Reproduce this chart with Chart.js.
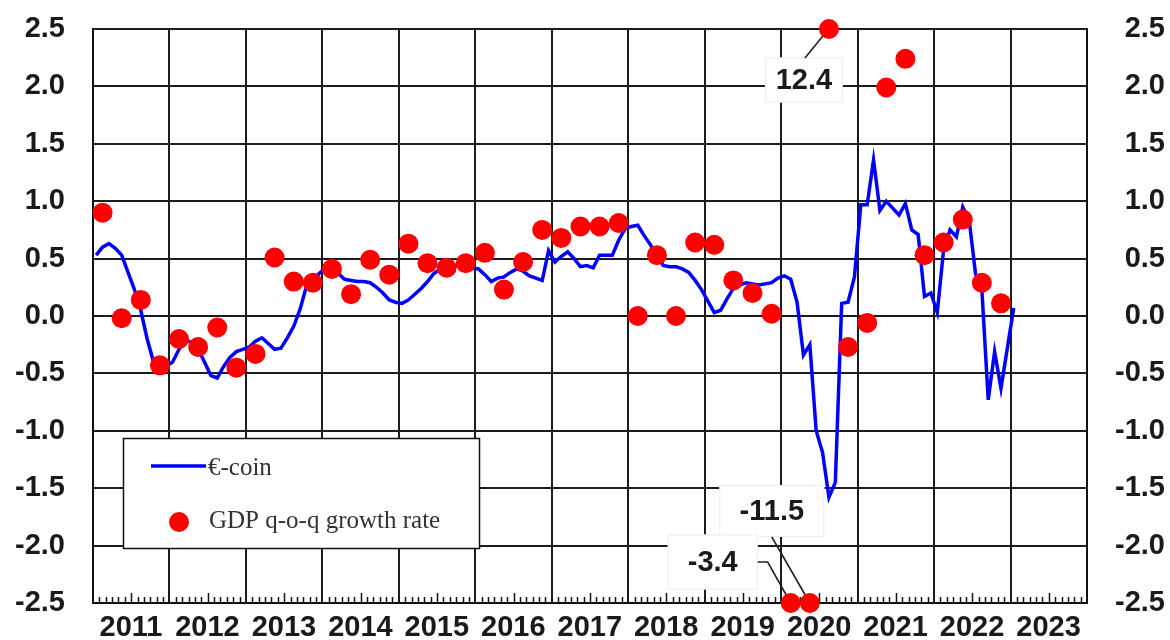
<!DOCTYPE html>
<html>
<head>
<meta charset="utf-8">
<script src="https://cdn.jsdelivr.net/npm/chart.js@4"></script>
<style>
  html, body { margin: 0; padding: 0; background: #fff; }
  canvas { display: block; }
</style>
</head>
<body>
<canvas id="chart" width="1170" height="640"></canvas>
<script>
const ctx = document.getElementById('chart');

const yearTicks = [2011, 2012, 2013, 2014, 2015, 2016, 2017, 2018, 2019, 2020, 2021, 2022, 2023, 2024];
const yearLabels = ['2011', '2012', '2013', '2014', '2015', '2016', '2017', '2018', '2019', '2020', '2021', '2022', '2023'];
const yTicks = [-2.5, -2.0, -1.5, -1.0, -0.5, 0.0, 0.5, 1.0, 1.5, 2.0, 2.5];

// €-coin, monthly from Jan 2011 to Jan 2023
const ecoin = [
  0.53, 0.60, 0.63, 0.59, 0.53, 0.38, 0.23, 0.05, -0.20, -0.40, -0.45, -0.44,
  -0.40, -0.29, -0.21, -0.23, -0.29, -0.40, -0.52, -0.54, -0.44, -0.36, -0.31, -0.29,
  -0.27, -0.22, -0.19, -0.24, -0.29, -0.28, -0.19, -0.09, 0.06, 0.26, 0.31, 0.37,
  0.42, 0.43, 0.37, 0.32, 0.31, 0.30, 0.30, 0.29, 0.25, 0.20, 0.14, 0.12,
  0.11, 0.14, 0.19, 0.24, 0.30, 0.37, 0.41, 0.42, 0.43, 0.44, 0.44, 0.42,
  0.41, 0.36, 0.30, 0.33, 0.34, 0.38, 0.41, 0.39, 0.35, 0.33, 0.31, 0.57,
  0.47, 0.52, 0.56, 0.50, 0.43, 0.44, 0.42, 0.53, 0.53, 0.53, 0.66, 0.76,
  0.78, 0.79, 0.70, 0.62, 0.52, 0.44, 0.43, 0.43, 0.41, 0.38, 0.31, 0.23,
  0.13, 0.03, 0.05, 0.15, 0.24, 0.27, 0.29, 0.28, 0.27, 0.28, 0.29, 0.33,
  0.35, 0.32, 0.12, -0.34, -0.25, -1.00, -1.19, -1.58, -1.45, 0.11, 0.12, 0.34,
  0.97, 0.97, 1.36, 0.92, 1.00, 0.94, 0.88, 0.98, 0.75, 0.71, 0.17, 0.20,
  0.03, 0.58, 0.75, 0.69, 0.95, 0.84, 0.37, 0.23, -0.73, -0.31, -0.63, -0.28,
  0.07
];

// GDP q-o-q growth rate, 2011Q1 to 2022Q4
const gdp = [
  0.90, -0.02, 0.14, -0.43,
  -0.20, -0.27, -0.10, -0.45,
  -0.33, 0.51, 0.30, 0.29,
  0.41, 0.19, 0.49, 0.36,
  0.63, 0.46, 0.42, 0.46,
  0.55, 0.23, 0.47, 0.75,
  0.68, 0.78, 0.78, 0.81,
  0.00, 0.53, 0.00, 0.64,
  0.62, 0.31, 0.20, 0.02,
  -3.4, -11.5, 12.4, -0.27,
  -0.06, 1.99, 2.24, 0.53,
  0.64, 0.84, 0.29, 0.11
];

const yMin = -2.5, yMax = 2.5;
const clampY = v => Math.max(yMin, Math.min(yMax, v));

const lineData = ecoin.map((v, i) => ({ x: 2011 + (i + 0.5) / 12, y: v }));
const gdpData = gdp.map((v, i) => ({ x: 2011 + (i * 3 + 1.5) / 12, y: clampY(v) }));

const tickFont = { family: '"Liberation Sans", Arial, sans-serif', size: 29, weight: 'bold' };
const gridColor = '#1c1c1c';

// month ticks along the bottom, pointing up into the plot
const monthTicks = {
  id: 'monthTicks',
  beforeDatasetsDraw(chart) {
    const c = chart.ctx, xs = chart.scales.x, bottom = chart.chartArea.bottom;
    c.save();
    c.strokeStyle = '#111';
    c.lineWidth = 1.5;
    for (let m = 1; m < 13 * 12; m++) {
      if (m % 12 === 0) continue;
      const x = Math.round(xs.getPixelForValue(2011 + m / 12)) + 0.5;
      const h = (m % 12 === 6) ? 10 : 6;
      c.beginPath();
      c.moveTo(x, bottom);
      c.lineTo(x, bottom - h);
      c.stroke();
    }
    c.restore();
  }
};

// labels for GDP values beyond the axis range
const outliers = [
  { i: 38, dx: -25, dy: 51, w: 78, h: 45, lead: [[-24, 29], [-2, 2]] },
  { i: 37, dx: -38, dy: -92, w: 105, h: 52, lead: [[-38, -66], [0, 0]] },
  { i: 36, dx: -78, dy: -41, w: 90, h: 55, lead: [[-33, -41], [-23, -41], [0, 0]] }
];

const outlierLabels = {
  id: 'outlierLabels',
  beforeDatasetsDraw(chart) {
    const c = chart.ctx, xs = chart.scales.x, ys = chart.scales.y;
    c.save();
    outliers.forEach(o => {
      const p = gdpData[o.i];
      const px = xs.getPixelForValue(p.x), py = ys.getPixelForValue(p.y);
      const cx = px + o.dx, cy = py + o.dy;
      c.fillStyle = '#fff';
      c.fillRect(cx - o.w / 2, cy - o.h / 2, o.w, o.h);
      c.strokeStyle = '#ececec';
      c.lineWidth = 1;
      c.strokeRect(cx - o.w / 2 + 0.5, cy - o.h / 2 + 0.5, o.w - 1, o.h - 1);
      c.strokeStyle = '#222';
      c.lineWidth = 1.6;
      c.beginPath();
      o.lead.forEach((pt, k) => {
        if (k === 0) c.moveTo(px + pt[0], py + pt[1]);
        else c.lineTo(px + pt[0], py + pt[1]);
      });
      c.stroke();
      c.fillStyle = '#1a1a1a';
      c.font = 'bold 29px "Liberation Sans", Arial, sans-serif';
      c.textAlign = 'center';
      c.textBaseline = 'middle';
      c.fillText(gdp[o.i].toFixed(1), cx, cy + 1);
    });
    c.restore();
  }
};

const boxLegend = {
  id: 'boxLegend',
  afterDraw(chart) {
    const c = chart.ctx;
    c.save();
    c.fillStyle = '#fff';
    c.fillRect(123, 438, 357, 111);
    c.strokeStyle = '#111';
    c.lineWidth = 1.5;
    c.strokeRect(123.5, 438.5, 356, 110);
    c.strokeStyle = '#0000ff';
    c.lineWidth = 3.5;
    c.beginPath();
    c.moveTo(151, 466);
    c.lineTo(206, 466);
    c.stroke();
    c.fillStyle = '#ff0000';
    c.beginPath();
    c.arc(179, 522, 10, 0, Math.PI * 2);
    c.fill();
    c.fillStyle = '#333';
    c.font = '25px "Liberation Serif", "Times New Roman", serif';
    c.textAlign = 'left';
    c.textBaseline = 'middle';
    c.fillText('\u20ac-coin', 208, 468);
    c.fillText('GDP q-o-q growth rate', 209, 521);
    c.restore();
  }
};

const fitY = w => s => { s.width = w; s.paddingTop = 0; s.paddingBottom = 0; };

new Chart(ctx, {
  type: 'line',
  data: {
    datasets: [
      {
        label: '\u20ac-coin',
        data: lineData,
        borderColor: '#0000ff',
        borderWidth: 3.5,
        pointRadius: 0,
        tension: 0,
        order: 2
      },
      {
        label: 'GDP q-o-q growth rate',
        data: gdpData,
        showLine: false,
        pointRadius: 10,
        pointHoverRadius: 10,
        pointBackgroundColor: '#ff0000',
        pointBorderWidth: 0,
        clip: false,
        order: 1
      }
    ]
  },
  options: {
    responsive: false,
    animation: false,
    devicePixelRatio: 1,
    layout: { padding: { top: 29, right: 5, left: 0, bottom: 0 } },
    plugins: { legend: { display: false }, tooltip: { enabled: false } },
    scales: {
      x: {
        type: 'linear',
        min: 2011,
        max: 2024,
        afterBuildTicks: s => { s.ticks = yearTicks.map(v => ({ value: v })); },
        afterFit: s => { s.height = 37; s.paddingLeft = 0; s.paddingRight = 0; },
        grid: { color: gridColor, lineWidth: 2, drawTicks: false },
        border: { display: true, color: '#111', width: 2 },
        ticks: {
          font: tickFont,
          color: '#1a1a1a',
          padding: 8,
          maxRotation: 0,
          autoSkip: false,
          labelOffset: 38,
          callback: (v, i) => yearLabels[i] || ''
        }
      },
      y: {
        position: 'left',
        min: yMin,
        max: yMax,
        afterBuildTicks: s => { s.ticks = yTicks.map(v => ({ value: v })); },
        afterFit: fitY(93),
        grid: { color: gridColor, lineWidth: 2, drawTicks: false },
        border: { display: true, color: '#111', width: 2 },
        ticks: {
          font: tickFont,
          color: '#1a1a1a',
          padding: 28,
          callback: v => v.toFixed(1)
        }
      },
      y2: {
        position: 'right',
        min: yMin,
        max: yMax,
        afterBuildTicks: s => { s.ticks = yTicks.map(v => ({ value: v })); },
        afterFit: fitY(78),
        grid: { drawOnChartArea: false, drawTicks: false },
        border: { display: true, color: '#111', width: 2 },
        ticks: {
          font: tickFont,
          color: '#1a1a1a',
          padding: 26,
          crossAlign: 'far',
          callback: v => v.toFixed(1)
        }
      }
    }
  },
  plugins: [monthTicks, outlierLabels, boxLegend]
});
</script>
</body>
</html>
